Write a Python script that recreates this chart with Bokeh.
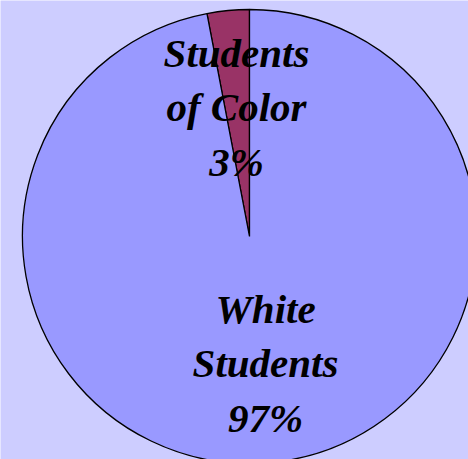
import math
from bokeh.plotting import figure
from bokeh.models import ColumnDataSource
from bokeh.core.properties import value
from bokeh.embed import file_html
from bokeh.resources import INLINE

# Data
categories = ["Students\nof Color", "White\nStudents"]
percent = [3, 97]
colors = ["#993366", "#9999FF"]

W, H = 468, 459
p = figure(width=W, height=H, x_range=(0, W), y_range=(0, H),
           output_backend="svg", toolbar_location=None, min_border=0)
p.axis.visible = False
p.grid.visible = False
p.outline_line_color = None
p.background_fill_color = "#CDCDFF"
p.border_fill_color = "#CDCDFF"

cx, cy, r = 249, H - 236, 227
total = sum(percent)
starts, ends = [], []
a = math.pi / 2
for v in percent:
    starts.append(a)
    a += 2 * math.pi * v / total
    ends.append(a)

src = ColumnDataSource(dict(start=starts, end=ends, color=colors))
p.wedge(x=cx, y=cy, radius=r, start_angle="start", end_angle="end",
        direction="anticlock", fill_color="color", line_color="black",
        line_width=1.3, source=src)

# labels
label_pos = [(236, 52), (265, 308)]
xs, ys, texts = [], [], []
for cat, v, (lx, ly) in zip(categories, percent, label_pos):
    lines = cat.split("\n") + [f"{v}%"]
    for i, t in enumerate(lines):
        xs.append(lx)
        ys.append(H - (ly + i * 54.5))
        texts.append(t)
p.text(x=xs, y=ys, text=texts, text_font=value("Liberation Serif"),
       text_font_style="bold italic", text_font_size="41px",
       text_align="center", text_baseline="alphabetic", text_color="black")

open("out.html", "w").write(file_html(p, INLINE))
